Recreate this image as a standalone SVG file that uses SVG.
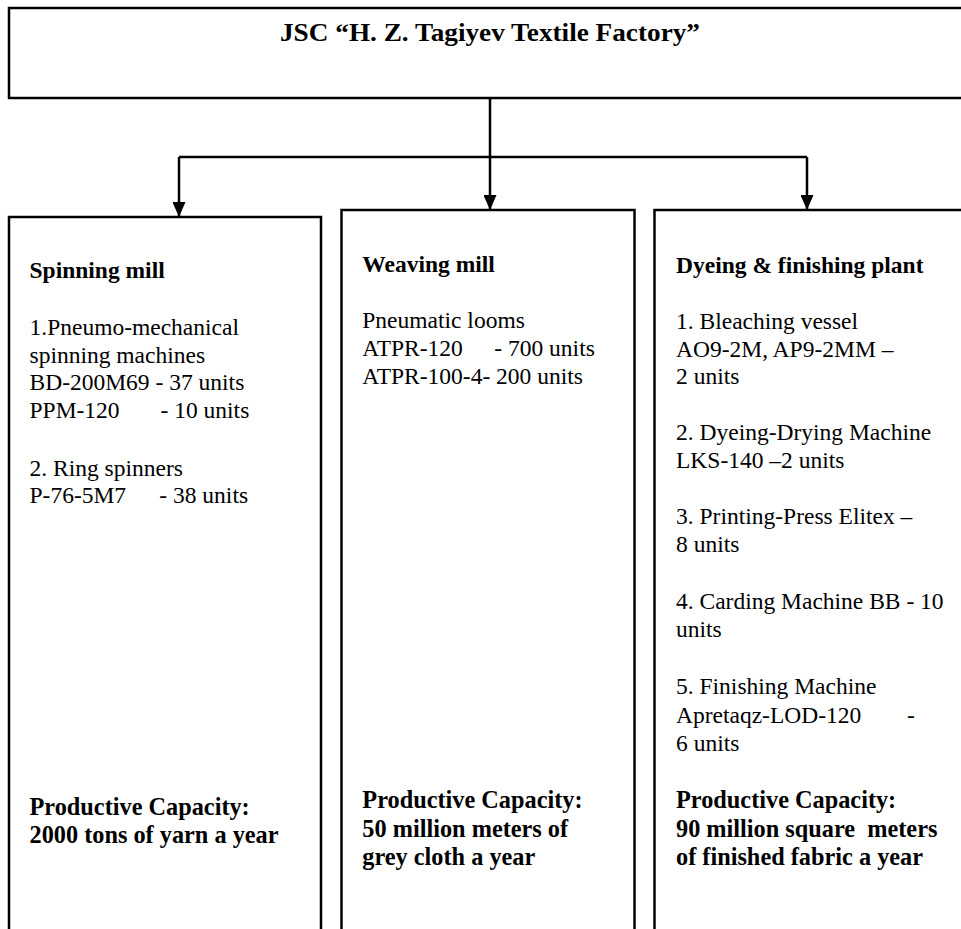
<svg xmlns="http://www.w3.org/2000/svg" width="961" height="929" viewBox="0 0 961 929">
<style>
text{font-family:"Liberation Serif","Times New Roman",serif;fill:#000;}
.t{font-size:23.5px;}
.b{font-size:23.5px;font-weight:bold;}
.p{font-size:24.3px;font-weight:bold;}
.h{font-size:25px;font-weight:bold;}
.box{fill:#fff;stroke:#000;stroke-width:2.5;}
.conn{fill:none;stroke:#000;stroke-width:2.5;}
</style>
<defs>
<marker id="ah" viewBox="0 0 15 13" refX="15" refY="6.5" markerWidth="15" markerHeight="13" markerUnits="userSpaceOnUse" orient="auto">
<path d="M0,0 L15,6.5 L0,13 Z" fill="#000"/>
</marker>
</defs>
<rect width="961" height="929" fill="#fff"/>
<g id="top">
<rect class="box" x="9" y="8" width="960" height="90" stroke-width="3"/>
<text class="h" x="490" y="41" text-anchor="middle" textLength="420" lengthAdjust="spacingAndGlyphs">JSC “H. Z. Tagiyev Textile Factory”</text>
</g>
<g id="connectors">
<path class="conn" d="M490,98 V210" marker-end="url(#ah)"/>
<path class="conn" d="M179,157 H807"/>
<path class="conn" d="M179,157 V217" marker-end="url(#ah)"/>
<path class="conn" d="M807,157 V210" marker-end="url(#ah)"/>
</g>
<g id="spinning">
<rect class="box" x="9" y="217" width="312" height="730"/>
<text class="b" x="29.5" y="278">Spinning mill</text>
<text class="t" x="29.5" y="335">1.Pneumo-mechanical</text>
<text class="t" x="29.5" y="363">spinning machines</text>
<text class="t" x="29.5" y="390">BD-200M69 - 37 units</text>
<text class="t" y="418"><tspan x="29.5">PPM-120</tspan><tspan x="160.5">- 10 units</tspan></text>
<text class="t" x="29.5" y="476">2. Ring spinners</text>
<text class="t" y="503"><tspan x="29.5">P-76-5M7</tspan><tspan x="159.3">- 38 units</tspan></text>
<text class="p" x="29.5" y="815">Productive Capacity:</text>
<text class="p" x="29.5" y="843">2000 tons of yarn a year</text>
</g>
<g id="weaving">
<rect class="box" x="341.5" y="210" width="293" height="737"/>
<text class="b" x="362.3" y="272">Weaving mill</text>
<text class="t" x="362.3" y="328">Pneumatic looms</text>
<text class="t" y="356"><tspan x="362.3">ATPR-120</tspan><tspan x="494.3">- 700 units</tspan></text>
<text class="t" x="362.3" y="384">ATPR-100-4- 200 units</text>
<text class="p" x="362.3" y="808">Productive Capacity:</text>
<text class="p" x="362.3" y="837">50 million meters of</text>
<text class="p" x="362.3" y="865">grey cloth a year</text>
</g>
<g id="dyeing">
<rect class="box" x="654.5" y="210" width="320" height="737"/>
<text class="b" x="676" y="273">Dyeing &amp; finishing plant</text>
<text class="t" x="676" y="329">1. Bleaching vessel</text>
<text class="t" x="676" y="357">AO9-2M, AP9-2MM –</text>
<text class="t" x="676" y="384">2 units</text>
<text class="t" x="676" y="440">2. Dyeing-Drying Machine</text>
<text class="t" x="676" y="468">LKS-140 –2 units</text>
<text class="t" x="676" y="524">3. Printing-Press Elitex –</text>
<text class="t" x="676" y="552">8 units</text>
<text class="t" x="676" y="609">4. Carding Machine BB - 10</text>
<text class="t" x="676" y="637">units</text>
<text class="t" x="676" y="694">5. Finishing Machine</text>
<text class="t" y="723"><tspan x="676">Apretaqz-LOD-120</tspan><tspan x="907">-</tspan></text>
<text class="t" x="676" y="751">6 units</text>
<text class="p" x="676" y="808">Productive Capacity:</text>
<text class="p" x="676" y="837" xml:space="preserve">90 million square  meters</text>
<text class="p" x="676" y="865">of finished fabric a year</text>
</g>
</svg>
